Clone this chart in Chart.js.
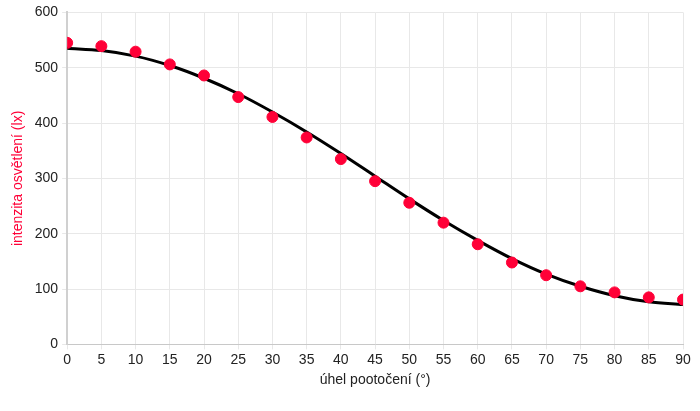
<!DOCTYPE html>
<html>
<head>
<meta charset="utf-8">
<script src="https://cdn.jsdelivr.net/npm/chart.js@4"></script>
<style>
  html, body { margin: 0; padding: 0; background: #fff; }
  #wrap { width: 700px; height: 411px; }
</style>
</head>
<body>
<div id="wrap"><canvas id="graf"></canvas></div>
<script>
// --- data ---
const uhly = [0, 5, 10, 15, 20, 25, 30, 35, 40, 45, 50, 55, 60, 65, 70, 75, 80, 85, 90];
const namereno = [545, 539, 529, 506, 486, 447, 411, 374, 335, 295, 256, 220, 181, 148, 125, 105, 94, 85, 81];
// fitted curve, read at the same angles
const krivka = [535, 531, 521, 504, 481, 453, 420, 384, 345, 304, 263, 224, 188, 155, 127, 105, 88, 77, 72];

const cervena = 'rgb(255, 0, 55)';
const font = { family: '"Liberation Sans", Arial, sans-serif', size: 14 };

const ctx = document.getElementById('graf').getContext('2d');
new Chart(ctx, {
    type: 'scatter',
    data: {
        datasets: [
            {
                label: 'fit',
                data: uhly.map((x, i) => ({ x: x, y: krivka[i] })),
                showLine: true,
                borderColor: '#000',
                borderWidth: 3,
                pointRadius: 0,
                cubicInterpolationMode: 'monotone',
                order: 2
            },
            {
                label: 'měření',
                data: uhly.map((x, i) => ({ x: x, y: namereno[i] })),
                backgroundColor: cervena,
                borderColor: cervena,
                pointRadius: 5.5,
                order: 1
            }
        ]
    },
    options: {
        responsive: true,
        maintainAspectRatio: false,
        animation: false,
        layout: { padding: { top: 7, right: 17, bottom: 18, left: 6 } },
        plugins: { legend: { display: false }, tooltip: { enabled: false } },
        scales: {
            x: {
                type: 'linear',
                min: 0, max: 90,
                ticks: { stepSize: 5, color: '#222', font: font, padding: 2 },
                grid: { color: '#e8e8e8', tickLength: 5 },
                border: { color: '#c8c8c8' },
                title: { display: true, text: 'úhel pootočení (°)', color: '#222', font: font, padding: { top: 2 } }
            },
            y: {
                min: 0, max: 600,
                ticks: { stepSize: 100, color: '#222', font: font, padding: 4 },
                grid: { color: '#e8e8e8', tickLength: 5 },
                border: { color: '#d0d0d0', width: 2 },
                title: { display: true, text: 'intenzita osvětlení (lx)', color: cervena, font: font, padding: { bottom: 4 } }
            }
        }
    }
});
</script>
</body>
</html>
